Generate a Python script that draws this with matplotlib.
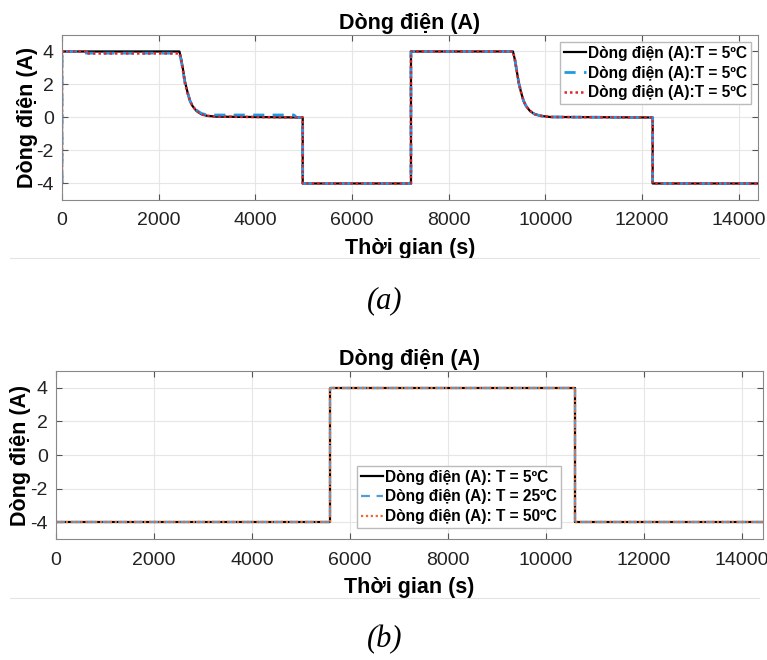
import matplotlib
matplotlib.use("Agg")
import matplotlib.pyplot as plt
from matplotlib.lines import Line2D

plt.rcParams['font.family'] = ['Liberation Sans', 'DejaVu Sans']
plt.rcParams['axes.unicode_minus'] = False

# ---- data (a) ----
t_a_black = [0, 0, 2430, 2470, 2510, 2550, 2600, 2650, 2700, 2780, 2880, 3000, 3200, 4980, 4980,
             7220, 7220, 9330, 9370, 9410, 9450, 9500, 9550, 9600, 9680, 9780, 9900, 10100, 12220, 12220, 14500]
i_a_black = [-4, 4, 4, 3.5, 2.8, 2.1, 1.5, 1.0, 0.7, 0.4, 0.2, 0.1, 0.05, 0.0, -4,
             -4, 4, 4, 3.5, 2.8, 2.1, 1.5, 1.0, 0.7, 0.4, 0.2, 0.1, 0.03, 0.0, -4, -4]

t_a_blue = [0, 0, 500, 500, 2430, 2470, 2510, 2550, 2600, 2650, 2700, 2780, 2880, 3000, 4800, 4850, 4980, 4980,
            7220, 7220, 9330, 9370, 9410, 9450, 9500, 9550, 9600, 9680, 9780, 9900, 10100, 12220, 12220, 14500]
i_a_blue = [-4, 4, 4, 3.9, 3.9, 3.4, 2.7, 2.0, 1.5, 1.0, 0.7, 0.45, 0.25, 0.15, 0.15, 0.0, 0.0, -4,
            -4, 4, 4, 3.5, 2.8, 2.1, 1.5, 1.0, 0.7, 0.4, 0.2, 0.1, 0.03, 0.0, -4, -4]

t_a_red = [0, 0, 500, 500, 2440, 2470, 2510, 2550, 2600, 2650, 2700, 2780, 2880, 3000, 3200, 4980, 4980,
           7220, 7220, 9330, 9370, 9410, 9450, 9500, 9550, 9600, 9680, 9780, 9900, 10100, 12220, 12220, 14500]
i_a_red = [-4, 4, 4, 3.88, 3.88, 3.4, 2.7, 2.0, 1.45, 1.0, 0.7, 0.4, 0.2, 0.1, 0.05, 0.0, -4,
           -4, 4, 4, 3.5, 2.8, 2.1, 1.5, 1.0, 0.7, 0.4, 0.2, 0.1, 0.03, 0.0, -4, -4]

labels_a = ['Dòng điện (A):T = 5ºC', 'Dòng điện (A):T = 5ºC', 'Dòng điện (A):T = 5ºC']

# ---- data (b) ----
t_b = [0, 5600, 5600, 10600, 10600, 14500]
i_b_5 = [-4, -4, 4, 4, -4, -4]
i_b_25 = [-4, -4, 4, 4, -4, -4]
i_b_50 = [-4, -4, 4, 4, -4, -4]
labels_b = ['Dòng điện (A): T = 5ºC', 'Dòng điện (A): T = 25ºC', 'Dòng điện (A): T = 50ºC']

xticks = [0, 2000, 4000, 6000, 8000, 10000, 12000, 14000]
yticks = [-4, -2, 0, 2, 4]

fig = plt.figure(figsize=(7.67, 6.6), dpi=100)
ax1 = fig.add_axes([0.0808, 0.697, 0.9075, 0.250])
ax2 = fig.add_axes([0.073, 0.1833, 0.9218, 0.2545])


def style(ax, xmax, ylabelpad):
    ax.set_xlim(0, xmax)
    ax.set_ylim(-5, 5)
    ax.set_xticks(xticks)
    ax.set_yticks(yticks)
    ax.grid(True, color='#e6e6e6', linewidth=0.8)
    ax.set_axisbelow(True)
    ax.tick_params(direction='in', top=True, right=True, labelsize=14, length=4,
                   color='#555555', labelcolor='#222222')
    ax.tick_params(axis='x', pad=9)
    ax.tick_params(axis='y', pad=6)
    for s in ax.spines.values():
        s.set_color('#888888')
        s.set_linewidth(0.8)
    ax.set_title('Dòng điện (A)', fontsize=15.5, fontweight='bold', pad=4)
    ax.set_xlabel('Thời gian (s)', fontsize=15.5, fontweight='bold', labelpad=6)
    ax.set_ylabel('Dòng điện (A)', fontsize=15.5, fontweight='bold', labelpad=ylabelpad)


leg_kw = dict(prop={'weight': 'bold', 'size': 11.2}, handlelength=1.4, handletextpad=0.15,
              borderpad=0.25, labelspacing=0.3, fancybox=False, edgecolor='#bbbbbb', framealpha=1)

ax1.plot(t_a_black, i_a_black, color='black', lw=1.6, label=labels_a[0])
ax1.plot(t_a_blue, i_a_blue, color='#1e9be6', lw=2, ls=(0, (4, 3)), label=labels_a[1])
ax1.plot(t_a_red, i_a_red, color='#e3242b', lw=1.8, ls=(0, (1, 1.2)), label=labels_a[2])
style(ax1, 14400, -1)
ax1.legend(loc='upper right', bbox_to_anchor=(1, 1), borderaxespad=0.45, **leg_kw)

ax2.plot(t_b, i_b_5, color='black', lw=1.6, label=labels_b[0])
ax2.plot(t_b, i_b_25, color='#4a9fdc', lw=1.6, ls=(0, (4, 3)), label=labels_b[1])
ax2.plot(t_b, i_b_50, color='#ee6a2c', lw=1.6, ls=(0, (1, 1.2)), label=labels_b[2])
style(ax2, 14430, -0.5)
ax2.legend(loc='lower left', bbox_to_anchor=(0.4257, 0.0655), borderaxespad=0, **leg_kw)

fig.text(0.502, 1 - 301 / 660, '(a)', fontsize=22, style='italic', family='Liberation Serif',
         ha='center', va='center')
fig.text(0.502, 1 - 640 / 660, '(b)', fontsize=22, style='italic', family='Liberation Serif',
         ha='center', va='center')

for yy in (258, 598):
    fig.add_artist(Line2D([0.013, 0.99], [1 - yy / 660, 1 - yy / 660], color='#e4e4e4', lw=0.8))

fig.savefig('out.png', dpi=100)
